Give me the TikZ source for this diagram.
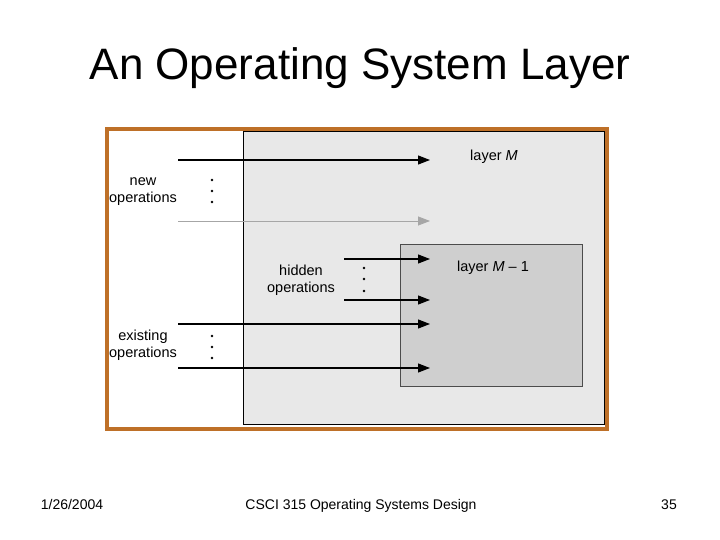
\documentclass[tikz,border=0pt]{standalone}
\usepackage{fontspec}
\setmainfont{Liberation Sans}
\usetikzlibrary{arrows.meta}
\begin{document}
\begin{tikzpicture}[x=1pt,y=-1pt,
  op/.style={draw=black,line width=1.1pt,-{Triangle[length=12pt,width=9pt]}},
  lbl/.style={font=\fontsize{14.5}{17}\selectfont,align=center},
  ft/.style={font=\fontsize{14}{16}\selectfont,anchor=base}]
\useasboundingbox (0,0) rectangle (720,540);
\node (title) at (360,68) {\fontsize{44}{50}\selectfont An Operating System Layer};
\fill[white] (107,129) rectangle (607,429);
\node[draw=black,fill=gray!18,line width=0.6pt,minimum width=361pt,minimum height=293pt,inner sep=0,anchor=north west] (lm) at (243,131) {};
\node[draw=black!70,fill=gray!38,line width=1pt,minimum width=182pt,minimum height=142pt,inner sep=0,anchor=north west] (lm1) at (400,244) {};
\draw[draw={rgb,255:red,190;green,112;blue,40},line width=3.5pt] (107,129) rectangle (607,429);
\coordinate (a1) at (178,160); \coordinate (b1) at (430,160);
\coordinate (a2) at (178,221); \coordinate (b2) at (430,221);
\coordinate (a3) at (344,259); \coordinate (b3) at (430,259);
\coordinate (a4) at (344,300); \coordinate (b4) at (430,300);
\coordinate (a5) at (178,324); \coordinate (b5) at (430,324);
\coordinate (a6) at (178,368); \coordinate (b6) at (430,368);
\draw[op] (a1) -- (b1);
\draw[op,draw=gray!70,line width=0.8pt] (a2) -- (b2);
\draw[op] (a3) -- (b3);
\draw[op] (a4) -- (b4);
\draw[op] (a5) -- (b5);
\draw[op] (a6) -- (b6);
\node[lbl] (tm) at (494,157) {layer \textit{M}};
\node[lbl] (tm1) at (493,268) {layer \textit{M} – 1};
\node[lbl] (new) at (143,192) {new\\operations};
\node[lbl] (hid) at (301,280) {hidden\\operations};
\node[lbl] (ex) at (143,345) {existing\\operations};
\foreach \x/\y in {212/180,212/191,212/202,364/268,364/279,364/291,212/336,212/347,212/358}
  \fill (\x,\y) circle (1.4pt);
\node[ft] (d) at (72,509) {1/26/2004};
\node[ft] (c) at (361,509) {CSCI 315 Operating Systems Design};
\node[ft] (p) at (669,509) {35};
\end{tikzpicture}
\end{document}
